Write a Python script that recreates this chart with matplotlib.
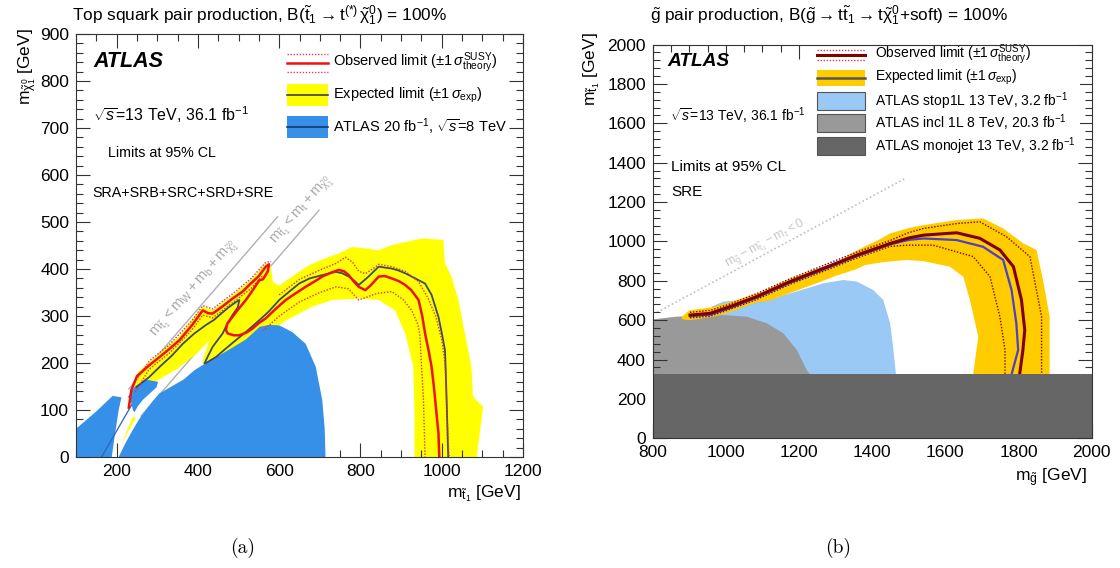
import matplotlib.pyplot as plt
from matplotlib.patches import Rectangle, Polygon
from matplotlib.lines import Line2D
from matplotlib.ticker import MultipleLocator

plt.rcParams['font.family'] = ['Liberation Sans', 'DejaVu Sans']
plt.rcParams['mathtext.fontset'] = 'custom'
plt.rcParams['mathtext.rm'] = 'Liberation Sans'
plt.rcParams['mathtext.it'] = 'Liberation Sans:italic'
plt.rcParams['mathtext.bf'] = 'Liberation Sans:bold'

# ---------------- (a) stop pair production ----------------
# expected +-1 sigma band (outer edge, then back along inner edge)
a_band_x = [1086, 1102, 1077, 1073, 1057, 1041, 1024, 1008, 1004, 951, 877, 845, 812, 779, 747, 714,
            673, 632, 600, 585, 578, 567, 530, 485, 436, 412, 385, 355, 306, 253, 236, 226,
            240, 270, 306, 350, 400, 430, 445, 435, 425, 415, 410,
            428, 469, 518, 560, 592, 633, 682, 731, 796, 845, 885, 910, 930, 933, 933]
a_band_y = [0, 107, 128, 192, 263, 334, 384, 412, 462, 465, 451, 440, 444, 447, 433, 423,
            408, 384, 365, 372, 410, 412, 376, 344, 312, 320, 292, 257, 221, 181, 148, 105,
            125, 148, 166, 188, 222, 250, 275, 262, 240, 215, 200,
            199, 220, 241, 265, 277, 298, 320, 334, 337, 334, 312, 263, 192, 85, 0]
a_band2_x = [203, 212, 225, 238, 248, 240, 228, 214]
a_band2_y = [5, 25, 48, 70, 82, 86, 62, 30]

# ATLAS 8 TeV excluded region
a_8tev_x = [205, 222, 238, 255, 272, 290, 305, 335, 365, 392, 420, 470, 518, 552, 575, 600,
            632, 665, 690, 706, 712, 714]
a_8tev_y = [0, 30, 55, 80, 100, 120, 135, 150, 165, 185, 200, 225, 250, 277, 281, 280,
            266, 241, 192, 121, 60, 0]
a_8tev_left_x = [100, 100, 150, 190, 212, 205, 198, 192, 188]
a_8tev_left_y = [0, 60, 97, 130, 127, 100, 60, 25, 0]
a_8tev_mid_x = [228, 245, 270, 302, 298, 285, 265, 252, 244, 240, 236]
a_8tev_mid_y = [128, 150, 165, 160, 148, 138, 122, 108, 95, 100, 115]
a_8tev_line_x = [163, 237]
a_8tev_line_y = [0, 111]

# observed limit
a_obs_x = [230, 236, 250, 280, 306, 330, 355, 385, 412, 425, 436, 460, 485, 510, 530, 550, 567, 575,
           572, 560, 551, 535, 518, 500, 485, 472, 469, 473, 488, 502, 520, 534, 550, 567, 590,
           616, 640, 665, 690, 706, 730, 747, 760, 771, 785, 796, 805, 812, 825, 845, 860, 877,
           895, 910, 925, 943, 952, 959, 968, 975, 980, 984, 988, 992, 994]
a_obs_y = [105, 142, 172, 195, 213, 230, 249, 280, 312, 306, 305, 320, 337, 352, 369, 385, 405, 410,
           395, 378, 376, 355, 334, 315, 298, 283, 270, 263, 259, 259, 265, 273, 285, 295, 314,
           334, 348, 362, 375, 384, 393, 398, 395, 387, 372, 362, 358, 355, 365, 384, 385, 380,
           374, 366, 355, 334, 300, 263, 225, 192, 155, 121, 85, 50, 0]
a_obs_up_x = [600, 650, 706, 740, 763, 780, 796, 812, 830, 845, 877, 910, 943, 965, 985, 1000,
              1008, 1012, 1015, 1018]
a_obs_up_y = [345, 378, 400, 412, 425, 415, 395, 390, 400, 410, 405, 395, 373, 340, 300, 250,
              200, 121, 50, 0]
a_obs_dn_x = [560, 600, 650, 700, 740, 770, 796, 815, 840, 877, 905, 926, 940, 946, 950, 955, 957, 959]
a_obs_dn_y = [268, 300, 330, 350, 362, 358, 334, 340, 348, 352, 335, 312, 285, 263, 200, 121, 60, 0]
a_obs_up2_x = [240, 280, 330, 385, 412, 436, 485, 530, 567, 580]
a_obs_up2_y = [153, 204, 239, 290, 322, 315, 347, 379, 414, 416]
a_obs_dn2_x = [246, 280, 330, 385, 412, 436, 485, 530, 560]
a_obs_dn2_y = [138, 187, 221, 270, 302, 296, 328, 358, 386]

# expected limit
a_exp_x = [249, 280, 306, 335, 363, 390, 420, 440, 453, 475, 494, 502, 498, 485, 472, 461, 448,
           436, 425, 416, 420, 445, 469, 494, 518, 551, 575, 600, 625, 649, 675, 706, 739, 755,
           771, 785, 796, 808, 820, 833, 845, 860, 877, 893, 910, 935, 959, 975, 992, 1001, 1008,
           1010, 1012, 1014, 1016]
a_exp_y = [149, 170, 192, 215, 241, 262, 281, 292, 302, 318, 330, 334, 318, 302, 283, 263, 248,
           234, 215, 199, 200, 213, 231, 249, 266, 291, 310, 334, 352, 369, 380, 387, 394, 391,
           384, 375, 366, 375, 384, 395, 405, 403, 401, 397, 391, 380, 369, 345, 298, 260, 227,
           180, 121, 60, 0]

# kinematic boundaries
a_kin_wb_x = [230, 596]
a_kin_wb_y = [145, 511]
a_kin_t_x = [260, 698]
a_kin_t_y = [87, 525]

# ---------------- (b) gluino pair production ----------------
b_band_x = [880, 900, 960, 1010, 1050, 1100, 1150, 1175, 1200, 1266, 1300, 1349, 1380, 1420, 1449,
            1500, 1540, 1600, 1631, 1703, 1758, 1813, 1849, 1867, 1885, 1885,
            1676, 1690, 1667, 1649, 1612, 1540, 1494, 1430, 1380, 1358, 1300, 1266, 1200, 1175,
            1120, 1084, 1050, 1011, 966, 902, 880]
b_band_y = [618, 650, 665, 690, 715, 745, 790, 810, 828, 872, 890, 945, 975, 1010, 1041,
            1068, 1083, 1100, 1109, 1117, 1066, 990, 957, 804, 618, 325,
            325, 516, 703, 821, 872, 900, 906, 895, 880, 860, 825, 800, 755, 738,
            700, 690, 668, 640, 618, 600, 605]

b_stop1l_x = [1100, 961, 993, 1039, 1112, 1175, 1266, 1321, 1358, 1403, 1430, 1449, 1458, 1465]
b_stop1l_y = [325, 669, 694, 703, 703, 736, 787, 804, 796, 753, 703, 584, 449, 325]
b_incl1l_x = [800, 866, 993, 1057, 1112, 1157, 1194, 1221, 1230, 800]
b_incl1l_y = [604, 618, 626, 618, 584, 533, 449, 347, 325, 325]
b_monojet_top = 325

b_obs_x = [902, 957, 1011, 1084, 1175, 1266, 1358, 1449, 1500, 1540, 1600, 1631, 1694, 1749, 1786,
           1808, 1817, 1812, 1803]
b_obs_y = [626, 635, 669, 720, 796, 863, 931, 990, 1018, 1032, 1040, 1044, 1016, 957, 872,
           703, 550, 449, 325]
b_obs_up_x = [902, 957, 1011, 1084, 1175, 1266, 1358, 1449, 1500, 1540, 1631, 1694, 1767, 1831,
              1849, 1863, 1863]
b_obs_up_y = [640, 650, 682, 735, 810, 878, 946, 1005, 1045, 1066, 1091, 1100, 1024, 923,
              753, 618, 325]
b_obs_dn_x = [902, 957, 1011, 1084, 1175, 1266, 1358, 1449, 1494, 1567, 1676, 1722, 1749, 1763, 1763]
b_obs_dn_y = [612, 620, 655, 705, 782, 848, 916, 975, 981, 981, 923, 821, 618, 449, 325]
b_exp_x = [902, 957, 1011, 1084, 1175, 1266, 1358, 1449, 1500, 1540, 1600, 1631, 1703, 1758, 1781,
           1794, 1799, 1781]
b_exp_y = [620, 628, 662, 714, 790, 857, 925, 985, 1008, 1015, 1010, 1007, 973, 906, 753,
           584, 449, 325]
b_kin_x = [812, 1490]
b_kin_y = [640, 1320]

# colours
c_yellow = '#ffff00'
c_blue8 = '#3790e8'
c_red = '#ee1111'
c_red_dot = '#e0304a'
c_exp_a = '#3d4a6a'
c_orange = '#ffcc00'
c_maroon = '#800000'
c_exp_b = '#4c3fc8'
c_lblue = '#99c9f4'
c_grey = '#999999'
c_dgrey = '#666666'

fig = plt.figure(figsize=(11.2, 5.68), dpi=100)
axL = fig.add_axes([76 / 1120, 1 - 457 / 568, 447 / 1120, 423 / 568])
axR = fig.add_axes([652.7 / 1120, 1 - 438.3 / 568, 439 / 1120, 393.7 / 568])


def style_axis(ax, xmaj, xmin, ymaj, ymin):
    ax.xaxis.set_major_locator(MultipleLocator(xmaj))
    ax.xaxis.set_minor_locator(MultipleLocator(xmin))
    ax.yaxis.set_major_locator(MultipleLocator(ymaj))
    ax.yaxis.set_minor_locator(MultipleLocator(ymin))
    ax.tick_params(which='both', direction='in', top=True, right=True, labelsize=12.5,
                   color='#333333', width=0.8)
    ax.tick_params(which='major', length=10, pad=5)
    ax.tick_params(which='minor', length=5)
    for s in ax.spines.values():
        s.set_linewidth(0.8)
        s.set_color('#333333')
        s.set_zorder(6)


# ---- panel (a)
ax = axL
ax.set_xlim(100, 1200)
ax.set_ylim(0, 900)
style_axis(ax, 200, 50, 100, 20)
ax.plot(a_kin_wb_x, a_kin_wb_y, color='#b0b0b0', lw=1.0, zorder=0.5)
ax.plot(a_kin_t_x, a_kin_t_y, color='#b0b0b0', lw=1.0, zorder=0.5)
ax.add_patch(Polygon(list(zip(a_band_x, a_band_y)), closed=True, fc=c_yellow, ec='none', zorder=1))
ax.add_patch(Polygon(list(zip(a_band2_x, a_band2_y)), closed=True, fc=c_yellow, ec='none', zorder=1))
for bx, by in [(a_8tev_x, a_8tev_y), (a_8tev_left_x, a_8tev_left_y), (a_8tev_mid_x, a_8tev_mid_y)]:
    ax.add_patch(Polygon(list(zip(bx, by)), closed=True, fc=c_blue8, ec='none', zorder=2))
ax.plot(a_8tev_line_x, a_8tev_line_y, color='#2a66b8', lw=0.9, zorder=2.5)
ax.plot(a_exp_x, a_exp_y, color=c_exp_a, lw=1.3, zorder=3)
for dx, dy in [(a_obs_up_x, a_obs_up_y), (a_obs_dn_x, a_obs_dn_y),
               (a_obs_up2_x, a_obs_up2_y), (a_obs_dn2_x, a_obs_dn2_y)]:
    ax.plot(dx, dy, color=c_red_dot, lw=1.0, ls=(0, (1, 1.2)), zorder=3.2)
ax.plot(a_obs_x, a_obs_y, color=c_red, lw=1.8, zorder=3.5)

ax.text(393, 357, r'$\mathrm{m_{\tilde{t}_1} < m_W + m_b + m_{\tilde{\chi}^0_1}}$', rotation=49,
        rotation_mode='anchor', ha='center', va='center', color='#a8a8a8', fontsize=10.5)
ax.text(658, 524, r'$\mathrm{m_{\tilde{t}_1} < m_t + m_{\tilde{\chi}^0_1}}$', rotation=49,
        rotation_mode='anchor', ha='center', va='center', color='#a8a8a8', fontsize=10.5)

ax.text(0.038, 0.934, 'ATLAS', transform=ax.transAxes, fontsize=15.5, fontweight='bold',
        fontstyle='italic', va='center')
ax.text(0.038, 0.809, r'$\sqrt{s}$=13 TeV, 36.1 fb$^{-1}$', transform=ax.transAxes,
        fontsize=11.5, va='center')
ax.text(0.072, 0.719, 'Limits at 95% CL', transform=ax.transAxes, fontsize=10.3, va='center')
ax.text(0.036, 0.624, 'SRA+SRB+SRC+SRD+SRE', transform=ax.transAxes, fontsize=10.3, va='center')

# legend (a)
lx0, lx1, ltx = 0.472, 0.564, 0.575
rows_a = [0.931, 0.856, 0.780]
ax.add_line(Line2D([lx0, lx1], [rows_a[0], rows_a[0]], color=c_red, lw=1.8, transform=ax.transAxes))
for off in (0.021, -0.021):
    ax.add_line(Line2D([lx0, lx1], [rows_a[0] + off] * 2, color='#d04080', lw=1.0,
                       ls=(0, (1, 1.2)), transform=ax.transAxes))
ax.add_patch(Rectangle((lx0, rows_a[1] - 0.026), lx1 - lx0, 0.052, fc=c_yellow, ec='none',
                       transform=ax.transAxes))
ax.add_line(Line2D([lx0, lx1], [rows_a[1]] * 2, color='#404040', lw=1.2, transform=ax.transAxes))
ax.add_patch(Rectangle((lx0, rows_a[2] - 0.026), lx1 - lx0, 0.052, fc=c_blue8, ec='none',
                       transform=ax.transAxes))
ax.add_line(Line2D([lx0, lx1], [rows_a[2]] * 2, color='#1a3570', lw=1.2, transform=ax.transAxes))
ax.text(ltx, rows_a[0], r'Observed limit ($\pm1\,\sigma^{\mathrm{SUSY}}_{\mathrm{theory}}$)',
        transform=ax.transAxes, fontsize=10.5, va='center')
ax.text(ltx, rows_a[1], r'Expected limit ($\pm1\,\sigma_{\mathrm{exp}}$)',
        transform=ax.transAxes, fontsize=10.5, va='center')
ax.text(ltx, rows_a[2], r'ATLAS 20 fb$^{-1}$, $\sqrt{s}$=8 TeV',
        transform=ax.transAxes, fontsize=10.5, va='center')

# ---- panel (b)
ax = axR
ax.set_xlim(800, 2000)
ax.set_ylim(0, 2000)
style_axis(ax, 200, 50, 200, 40)
ax.plot(b_kin_x, b_kin_y, color='#c0c0c0', lw=1.2, ls=(0, (1, 1.5)), zorder=0.5)
ax.add_patch(Polygon(list(zip(b_stop1l_x, b_stop1l_y)), closed=True, fc=c_lblue, ec='none', zorder=1))
ax.add_patch(Polygon(list(zip(b_incl1l_x, b_incl1l_y)), closed=True, fc=c_grey, ec='none', zorder=1.5))
ax.add_patch(Polygon(list(zip(b_band_x, b_band_y)), closed=True, fc=c_orange, ec='none', zorder=2))
for dx, dy in [(b_obs_up_x, b_obs_up_y), (b_obs_dn_x, b_obs_dn_y)]:
    ax.plot(dx, dy, color=c_maroon, lw=1.0, ls=(0, (1, 1.2)), zorder=3)
ax.plot(b_exp_x, b_exp_y, color=c_exp_b, lw=1.6, zorder=3.2)
ax.plot(b_obs_x, b_obs_y, color=c_maroon, lw=2.2, zorder=3.5)
ax.axhspan(0, b_monojet_top, color=c_dgrey, lw=0, zorder=4)

ax.text(1107, 990, r'$\mathrm{m_{\tilde{g}} - m_{\tilde{t}_1} - m_t < 0}$', rotation=28.3,
        rotation_mode='anchor', ha='center', va='center', color='#c8c8c8', fontsize=9)

ax.text(0.033, 0.956, 'ATLAS', transform=ax.transAxes, fontsize=13.8, fontweight='bold',
        fontstyle='italic', va='center')
ax.text(0.039, 0.819, r'$\sqrt{s}$=13 TeV, 36.1 fb$^{-1}$', transform=ax.transAxes,
        fontsize=10, va='center')
ax.text(0.042, 0.689, 'Limits at 95% CL', transform=ax.transAxes, fontsize=11, va='center')
ax.text(0.042, 0.625, 'SRE', transform=ax.transAxes, fontsize=11, va='center')

# legend (b) -- white box hides the top ticks
ax.add_patch(Rectangle((0.345, 0.712), 0.628, 0.286, fc='white', ec='none', lw=0,
                       transform=ax.transAxes, zorder=5))
rx0, rx1, rtx = 0.374, 0.484, 0.507
rows_b = [0.974, 0.916, 0.857, 0.801, 0.742]
ax.add_line(Line2D([rx0, rx1], [rows_b[0]] * 2, color=c_maroon, lw=2.2, transform=ax.transAxes,
                   zorder=5.5))
for off in (0.012, -0.012):
    ax.add_line(Line2D([rx0, rx1], [rows_b[0] + off] * 2, color='#d04060', lw=1.0,
                       ls=(0, (1, 1.2)), transform=ax.transAxes, zorder=5.5))
ax.add_patch(Rectangle((rx0, rows_b[1] - 0.02), rx1 - rx0, 0.04, fc=c_orange, ec='none',
                       transform=ax.transAxes, zorder=5.5))
ax.add_line(Line2D([rx0, rx1], [rows_b[1]] * 2, color='#555555', lw=1.8, transform=ax.transAxes,
                   zorder=5.6))
for r, c in zip(rows_b[2:], [c_lblue, c_grey, c_dgrey]):
    ax.add_patch(Rectangle((rx0, r - 0.023), rx1 - rx0, 0.046, fc=c, ec='#555555', lw=0.8,
                           transform=ax.transAxes, zorder=5.5))
labels_b = [r'Observed limit ($\pm1\,\sigma^{\mathrm{SUSY}}_{\mathrm{theory}}$)',
            r'Expected limit ($\pm1\,\sigma_{\mathrm{exp}}$)',
            r'ATLAS stop1L 13 TeV, 3.2 fb$^{-1}$',
            r'ATLAS incl 1L 8 TeV, 20.3 fb$^{-1}$',
            r'ATLAS monojet 13 TeV, 3.2 fb$^{-1}$']
for r, t in zip(rows_b, labels_b):
    ax.text(rtx, r, t, transform=ax.transAxes, fontsize=10, va='center', zorder=5.6)

# titles, axis labels, captions
fig.text(72 / 1120, 1 - 15 / 568,
         r'Top squark pair production, B($\mathrm{\tilde{t}_1 \rightarrow t^{(*)}\,\tilde{\chi}^0_1}$) = 100%',
         fontsize=12.4, va='center', ha='left')
fig.text(650 / 1120, 1 - 15 / 568,
         r'$\mathrm{\tilde{g}}$ pair production, B($\mathrm{\tilde{g} \rightarrow t\tilde{t}_1 \rightarrow t\tilde{\chi}^0_1}$+soft) = 100%',
         fontsize=12.4, va='center', ha='left')
fig.text(27 / 1120, 1 - 28 / 568, r'$\mathrm{m_{\tilde{\chi}^0_1}}$ [GeV]', rotation=90,
         ha='center', va='top', fontsize=12.5)
fig.text(592 / 1120, 1 - 32 / 568, r'$\mathrm{m_{\tilde{t}_1}}$ [GeV]', rotation=90,
         ha='center', va='top', fontsize=12.5)
fig.text(521 / 1120, 1 - 494 / 568, r'$\mathrm{m_{\tilde{t}_1}}$ [GeV]', ha='right', va='center',
         fontsize=12.5)
fig.text(1087 / 1120, 1 - 478 / 568, r'$\mathrm{m_{\tilde{g}}}$ [GeV]', ha='right', va='center',
         fontsize=12.5)
fig.text(243 / 1120, 1 - 548 / 568, '(a)', family='cmr10', fontsize=14, ha='center', va='center')
fig.text(838 / 1120, 1 - 548 / 568, '(b)', family='cmr10', fontsize=14, ha='center', va='center')

fig.savefig('out.png', dpi=100)
